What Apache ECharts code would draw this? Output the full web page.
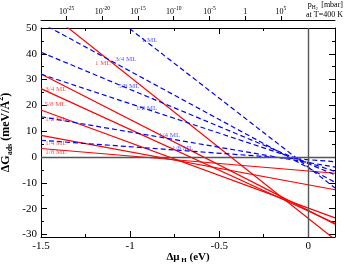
<!DOCTYPE html>
<html><head><meta charset="utf-8">
<script src="https://cdn.jsdelivr.net/npm/echarts@6/dist/echarts.min.js"></script>
<style>html,body{margin:0;padding:0;background:#fff}#c{width:345px;height:264px}</style>
</head><body><div id="c"></div>
<script>
// ---- data ----
const coverages = ['1 ML', '3/4 ML', '5/8 ML', '1/2 ML', '1/4 ML', '1/8 ML'];
const muEnds = [-1.5, 0.15];                       // x at which each line's values were read
const redAtLeft  = [58.4, 32.2, 26.5, 18.2, 8.4, 3.3];
const redAtRight = [-32.0, -26.0, -25.7, -23.6, -12.7, -6.3];
const blueAtLeft  = [76.4, 52.0, 40.6, 32.1, 15.6, 6.5];
const blueAtRight = [-12.0, -9.8, -6.9, -5.6, -3.9, -1.8];
const xTicks = [-1.5, -1, -0.5, 0];
const xMinorTicks = [-1.25, -0.75, -0.25];
const yTicks = [-30, -20, -10, 0, 10, 20, 30, 40, 50];
const yMinorTicks = [-25, -15, -5, 5, 15, 25, 35, 45];
const pTicks = [-25, -20, -15, -10, -5, 0, 5];     // log10(p / mbar)
const muAtOneMbar = -0.354;                        // eV, where p = 1 mbar
const muPerDecade = 0.0401;                        // eV per decade of p at 400 K
// label anchors (layout only)
const redLabelAt  = [[-1.153, 36.5], [-1.416, 26.3], [-1.421, 20.5], [-1.416, 14.7], [-1.416, 5.3], [-1.416, 1.8]];
const blueLabelAt = [[-0.89, 45.4], [-1.024, 38.0], [-1.007, 27.5], [-0.907, 18.9], [-0.778, 8.4], [-0.705, 3.4]];

const FONT = 'Liberation Serif';
const X_MIN = -1.5, X_MAX = 0.15, Y_MIN = -31, Y_MAX = 50;
const pMin = (X_MIN - muAtOneMbar) / muPerDecade;
const pMax = (X_MAX - muAtOneMbar) / muPerDecade;

const chart = echarts.init(document.getElementById('c'), null, {renderer: 'canvas'});

const lineCol = '#000';
function xAx(extra) {
  return Object.assign({
    type: 'value', min: X_MIN, max: X_MAX, gridIndex: 0,
    splitLine: {show: false},
    axisLine: {show: false, onZero: false, lineStyle: {color: lineCol, width: 1}},
    axisTick: {show: false},
    axisLabel: {show: false}
  }, extra);
}
function yAx(extra) {
  return Object.assign({
    type: 'value', min: Y_MIN, max: Y_MAX, gridIndex: 0,
    splitLine: {show: false},
    axisLine: {show: false, onZero: false, lineStyle: {color: lineCol, width: 1}},
    axisTick: {show: false},
    axisLabel: {show: false}
  }, extra);
}

const xAxes = [
  xAx({position: 'bottom',
    axisLine: {show: true, onZero: false, lineStyle: {color: lineCol, width: 1}},
    axisTick: {show: true, inside: true, length: 6, customValues: xTicks, lineStyle: {color: lineCol}},
    axisLabel: {show: true, customValues: xTicks, fontFamily: FONT, fontSize: 11, color: '#000', margin: 4,
      formatter: v => String(v)},
    name: '{b|Δμ}{s| H}{b| (eV)}', nameLocation: 'middle', nameGap: 13, nameMoveOverlap: false,
    nameTextStyle: {verticalAlign: 'top', rich: {
      b: {fontFamily: FONT, fontSize: 11, fontWeight: 'bold', color: '#000', lineHeight: 14},
      s: {fontFamily: FONT, fontSize: 7, fontWeight: 'bold', color: '#000', verticalAlign: 'bottom', lineHeight: 14}
    }}
  }),
  xAx({position: 'bottom',
    axisTick: {show: true, inside: true, length: 3, customValues: xMinorTicks, lineStyle: {color: lineCol}}}),
  xAx({position: 'top',
    axisLine: {show: true, onZero: false, lineStyle: {color: lineCol, width: 1}},
    axisTick: {show: true, inside: true, length: 6, customValues: xTicks, lineStyle: {color: lineCol}}}),
  xAx({position: 'top',
    axisTick: {show: true, inside: true, length: 3, customValues: xMinorTicks, lineStyle: {color: lineCol}}}),
  {type: 'value', gridIndex: 0, position: 'top', offset: 8, min: pMin, max: pMax,
    splitLine: {show: false},
    axisLine: {show: true, onZero: false, lineStyle: {color: lineCol, width: 1}},
    axisTick: {show: true, inside: false, length: 4, customValues: pTicks, lineStyle: {color: lineCol}},
    axisLabel: {show: true, customValues: pTicks, margin: 3,
      formatter: v => v === 0 ? '{b|1}' : '{b|10}{s|' + v + '}',
      rich: {
        b: {fontFamily: FONT, fontSize: 8, color: '#000', lineHeight: 11},
        s: {fontFamily: FONT, fontSize: 5.5, color: '#000', verticalAlign: 'top', lineHeight: 11}
      }}
  }
];

const yAxes = [
  yAx({position: 'left',
    axisLine: {show: true, onZero: false, lineStyle: {color: lineCol, width: 1}},
    axisTick: {show: true, inside: true, length: 6, customValues: yTicks, lineStyle: {color: lineCol}},
    axisLabel: {show: true, customValues: yTicks, fontFamily: FONT, fontSize: 11, color: '#000', margin: 4},
    name: '{b|ΔG}{s|ads}{b| (meV/Å}{u|2}{b|)}', nameLocation: 'middle', nameGap: 27, nameRotate: 90,
    nameMoveOverlap: false,
    nameTextStyle: {rich: {
      b: {fontFamily: FONT, fontSize: 12, fontWeight: 'bold', color: '#000', lineHeight: 17},
      s: {fontFamily: FONT, fontSize: 8, fontWeight: 'bold', color: '#000', verticalAlign: 'bottom', lineHeight: 17},
      u: {fontFamily: FONT, fontSize: 8, fontWeight: 'bold', color: '#000', verticalAlign: 'top', lineHeight: 17}
    }}
  }),
  yAx({position: 'left',
    axisTick: {show: true, inside: true, length: 3, customValues: yMinorTicks, lineStyle: {color: lineCol}}}),
  yAx({position: 'right',
    axisLine: {show: true, onZero: false, lineStyle: {color: lineCol, width: 1}},
    axisTick: {show: true, inside: true, length: 6, customValues: yTicks, lineStyle: {color: lineCol}}}),
  yAx({position: 'right',
    axisTick: {show: true, inside: true, length: 3, customValues: yMinorTicks, lineStyle: {color: lineCol}}})
];

const series = [];
// zero reference lines
series.push({
  type: 'line', data: [], xAxisIndex: 0, yAxisIndex: 0, silent: true, z: 1,
  markLine: {symbol: 'none', silent: true, animation: false, label: {show: false},
    lineStyle: {color: '#555', width: 1.4, type: 'solid'},
    data: [{xAxis: 0}, {yAxis: 0}]}
});
coverages.forEach((c, i) => {
  series.push({
    type: 'line', name: 'H-rich ' + c, xAxisIndex: 0, yAxisIndex: 0, symbol: 'none', silent: true, z: 3,
    data: [[muEnds[0], redAtLeft[i]], [muEnds[1], redAtRight[i]]],
    lineStyle: {color: '#ff0000', width: 1.2}
  });
  series.push({
    type: 'line', name: 'dashed ' + c, xAxisIndex: 0, yAxisIndex: 0, symbol: 'none', silent: true, z: 4,
    data: [[muEnds[0], blueAtLeft[i]], [muEnds[1], blueAtRight[i]]],
    lineStyle: {color: '#0000ff', width: 1.2, type: [5, 3]}
  });
});
function labelSeries(anchors, color) {
  return {
    type: 'scatter', xAxisIndex: 0, yAxisIndex: 0, symbolSize: 0, silent: true, z: 6,
    data: anchors.map((p, i) => [p[0], p[1], coverages[i]]),
    label: {show: true, position: 'inside', formatter: p => p.data[2],
      fontFamily: FONT, fontSize: 7, color: color}
  };
}
series.push(labelSeries(redLabelAt, '#ff2020'));
series.push(labelSeries(blueLabelAt, '#3030ff'));

chart.setOption({
  animation: false,
  backgroundColor: '#fff',
  grid: {left: 41, right: 10, top: 28, bottom: 27, containLabel: false, outerBoundsMode: 'none'},
  xAxis: xAxes,
  yAxis: yAxes,
  series: series,
  graphic: [{
    type: 'text', right: 2, top: 1, silent: true,
    style: {
      text: '{b|p}{s|H}{ss|2}{b| [mbar]}\n{b|at T=400 K}',
      align: 'right',
      rich: {
        b: {fontFamily: FONT, fontSize: 8, fill: '#000', lineHeight: 9, align: 'right'},
        s: {fontFamily: FONT, fontSize: 5.5, fill: '#000', verticalAlign: 'bottom', lineHeight: 9},
        ss: {fontFamily: FONT, fontSize: 4, fill: '#000', verticalAlign: 'bottom', lineHeight: 11}
      }
    }
  }]
});
</script>
</body></html>
